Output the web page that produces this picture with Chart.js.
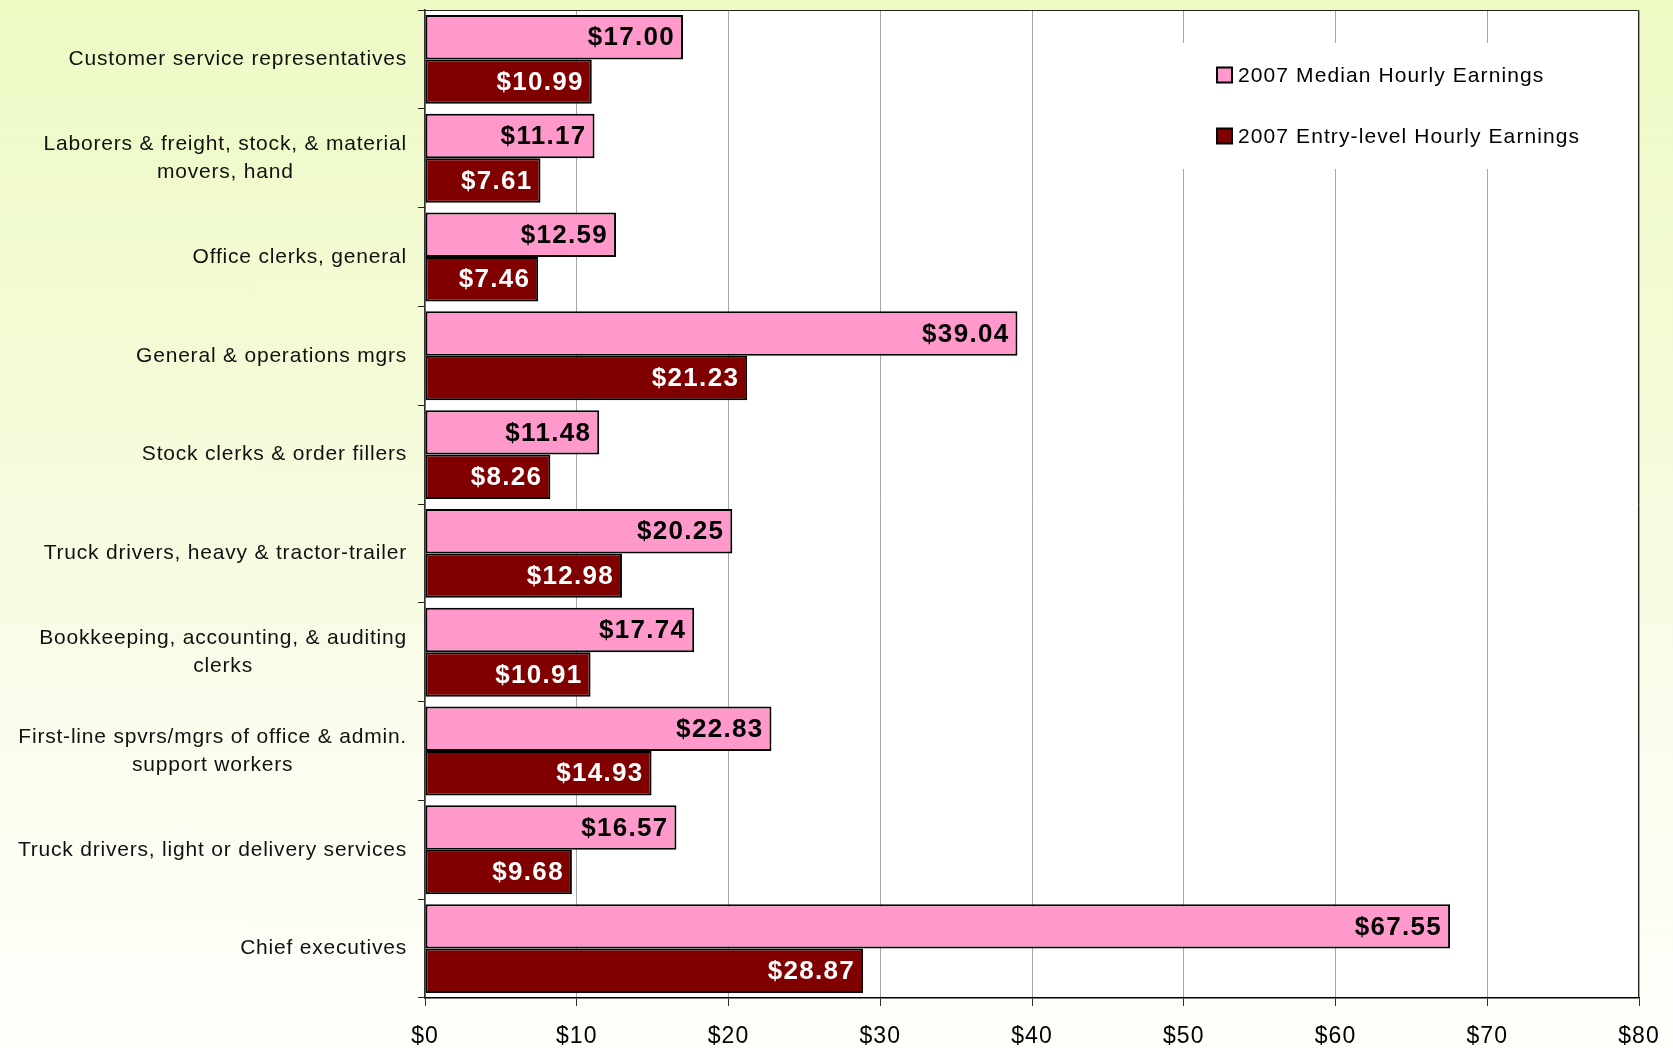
<!DOCTYPE html>
<html>
<head>
<meta charset="utf-8">
<script src="https://cdn.jsdelivr.net/npm/chart.js@4/dist/chart.umd.min.js"></script>
<style>
    html, body { margin: 0; padding: 0; }
    body { width: 1673px; height: 1048px; overflow: hidden;
           background: linear-gradient(to bottom, #edfac4 0%, #f4fbd9 40%, #fbfdf0 75%, #fefffb 100%); }
    #wrap { position: relative; width: 1673px; height: 1048px; }
</style>
</head>
<body>
<div id="wrap"><canvas id="earningsChart"></canvas></div>
<script>
// Категории (профессии), многострочные - массивами
const occupations = [
    'Customer service representatives',
    ['Laborers & freight, stock, & material', 'movers, hand'],
    'Office clerks, general',
    'General & operations mgrs',
    'Stock clerks & order fillers',
    'Truck drivers, heavy & tractor-trailer',
    ['Bookkeeping, accounting, & auditing', 'clerks'],
    ['First-line spvrs/mgrs of office & admin.', 'support workers'],
    'Truck drivers, light or delivery services',
    'Chief executives'
];

const medianEarnings = [17.00, 11.17, 12.59, 39.04, 11.48, 20.25, 17.74, 22.83, 16.57, 67.55];
const entryEarnings  = [10.99, 7.61, 7.46, 21.23, 8.26, 12.98, 10.91, 14.93, 9.68, 28.87];

const seriesNames = ['2007 Median Hourly Earnings', '2007 Entry-level Hourly Earnings'];
const xTicks = [0, 10, 20, 30, 40, 50, 60, 70, 80];

const FONT = '"Liberation Sans", Arial, sans-serif';

// Белая область графика + рамка (и разрядка шрифта как в Excel)
const plotAreaPlugin = {
    id: 'plotArea',
    beforeDraw(chart) {
        const { ctx, chartArea: a } = chart;
        ctx.letterSpacing = '1px';
        ctx.save();
        ctx.fillStyle = '#ffffff';
        ctx.fillRect(a.left, a.top, a.right - a.left, a.bottom - a.top);
        ctx.restore();
    },
    afterDraw(chart) {
        const { ctx, chartArea: a } = chart;
        ctx.save();
        ctx.strokeStyle = '#222';
        ctx.lineWidth = 1;
        ctx.beginPath();
        ctx.moveTo(a.left, a.top + 0.5);
        ctx.lineTo(a.right - 0.5, a.top + 0.5);
        ctx.lineTo(a.right - 0.5, a.bottom);
        ctx.stroke();
        ctx.restore();
    }
};

// Подписи категорий: блок выровнен вправо, строки по центру блока
const categoryLabelsPlugin = {
    id: 'categoryLabels',
    afterDraw(chart) {
        const { ctx } = chart;
        const yScale = chart.scales.y;
        const rightEdge = yScale.right - 18;
        const lineH = 28;
        ctx.save();
        ctx.font = '21px ' + FONT;
        ctx.letterSpacing = '0.8px';
        ctx.fillStyle = '#111';
        ctx.textBaseline = 'middle';
        ctx.textAlign = 'center';
        occupations.forEach((lab, i) => {
            const lines = Array.isArray(lab) ? lab : [lab];
            const maxW = Math.max(...lines.map(l => ctx.measureText(l).width));
            const cx = rightEdge - maxW / 2;
            const cy = yScale.getPixelForTick(i);
            const y0 = cy - (lines.length - 1) * lineH / 2;
            lines.forEach((l, k) => ctx.fillText(l, cx, y0 + k * lineH));
        });
        ctx.restore();
    }
};

// Значения внутри конца столбца
const valueLabelsPlugin = {
    id: 'valueLabels',
    afterDatasetsDraw(chart) {
        const { ctx } = chart;
        ctx.save();
        ctx.font = 'bold 26px ' + FONT;
        ctx.letterSpacing = '1.3px';
        ctx.textAlign = 'right';
        ctx.textBaseline = 'middle';
        chart.data.datasets.forEach((ds, di) => {
            const meta = chart.getDatasetMeta(di);
            ctx.fillStyle = di === 0 ? '#000000' : '#ffffff';
            meta.data.forEach((bar, i) => {
                ctx.fillText('$' + ds.data[i].toFixed(2), bar.x - 8, bar.y + 1);
            });
        });
        ctx.restore();
    }
};

// Легенда в правом верхнем углу области графика
const boxLegendPlugin = {
    id: 'boxLegend',
    afterDatasetsDraw(chart) {
        const { ctx, chartArea: a } = chart;
        const boxLeft = a.right - 462;
        const boxTop = a.top + 33;
        ctx.save();
        ctx.fillStyle = '#ffffff';
        ctx.fillRect(boxLeft, boxTop, 430, 126);
        ctx.font = '21px ' + FONT;
        ctx.letterSpacing = '1.1px';
        ctx.textBaseline = 'middle';
        ctx.textAlign = 'left';
        chart.data.datasets.forEach((ds, di) => {
            const cy = a.top + 65 + di * 61;
            const sx = boxLeft + 40;
            ctx.fillStyle = ds.backgroundColor;
            ctx.fillRect(sx, cy - 7.5, 15, 15);
            ctx.strokeStyle = '#000';
            ctx.lineWidth = 2;
            ctx.strokeRect(sx, cy - 7.5, 15, 15);
            ctx.fillStyle = '#000';
            ctx.fillText(ds.label, sx + 21, cy + 1);
        });
        ctx.restore();
    }
};

new Chart(document.getElementById('earningsChart'), {
    type: 'bar',
    data: {
        labels: occupations,
        datasets: [
            {
                label: seriesNames[0],
                data: medianEarnings,
                backgroundColor: '#ff99cc',
                borderColor: '#000000',
                borderWidth: 2,
                borderSkipped: false
            },
            {
                label: seriesNames[1],
                data: entryEarnings,
                backgroundColor: '#800000',
                borderColor: '#000000',
                borderWidth: 2,
                borderSkipped: false
            }
        ]
    },
    options: {
        indexAxis: 'y',
        responsive: true,
        maintainAspectRatio: false,
        animation: false,
        categoryPercentage: 0.9,
        barPercentage: 1.0,
        layout: { padding: { top: 10, right: 34, left: 0, bottom: 0 } },
        plugins: {
            legend: { display: false },
            tooltip: { enabled: false }
        },
        scales: {
            x: {
                min: 0,
                max: 80,
                afterBuildTicks: scale => { scale.ticks = xTicks.map(v => ({ value: v })); },
                afterFit: scale => {
                    scale.height = 50;
                    scale.paddingLeft = 0;
                    scale.paddingRight = 0;
                },
                grid: {
                    color: '#a6a6a6',
                    lineWidth: 1,
                    tickLength: 8,
                    tickColor: '#333',
                    drawOnChartArea: true
                },
                border: { color: '#000', width: 1.5 },
                ticks: {
                    padding: 17,
                    color: '#000',
                    font: { family: FONT, size: 23 },
                    callback: v => '$' + v
                }
            },
            y: {
                afterFit: scale => { scale.width = 425; },
                grid: {
                    offset: true,
                    drawOnChartArea: false,
                    tickLength: 7,
                    tickColor: '#222',
                    color: '#222'
                },
                border: { color: '#333', width: 1.5 },
                ticks: { display: false }
            }
        }
    },
    plugins: [plotAreaPlugin, categoryLabelsPlugin, valueLabelsPlugin, boxLegendPlugin]
});
</script>
</body>
</html>
